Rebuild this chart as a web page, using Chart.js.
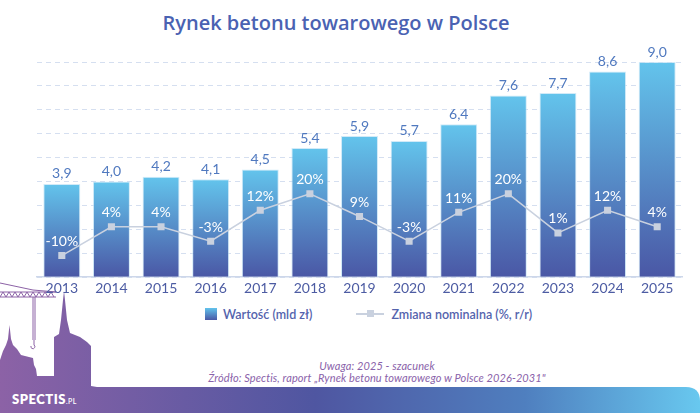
<!DOCTYPE html>
<html lang="pl">
<head>
    <meta charset="UTF-8">
    <title>Rynek betonu towarowego w Polsce</title>
    <script src="https://cdn.jsdelivr.net/npm/chart.js"></script>
    <style>
        body {
            margin: 0;
            width: 700px;
            height: 413px;
            overflow: hidden;
            background: #ffffff;
            position: relative;
            font-family: Lato, "Open Sans", sans-serif;
        }

        #deco {
            position: absolute;
            left: 0;
            top: 0;
            z-index: 0;
        }

        h1 {
            position: absolute;
            left: 0;
            top: 9px;
            width: 672px;
            margin: 0;
            text-align: center;
            font-family: "Open Sans", sans-serif;
            font-weight: 600;
            font-size: 20px;
            color: #4a62b2;
        }

        .wrap {
            position: absolute;
            left: 0;
            top: 0;
            width: 700px;
            height: 300px;
            z-index: 1;
        }

        .legend {
            position: absolute;
            top: 306px;
            left: 205px;
            height: 16px;
            display: flex;
            align-items: center;
            font-size: 12.5px;
            font-weight: 600;
            color: #5463ad;
            z-index: 1;
        }

        .legend .box {
            width: 12px;
            height: 12px;
            background: linear-gradient(#62c3ec, #4a58a6);
            margin-right: 6px;
        }

        .legend .ln {
            position: relative;
            width: 28px;
            height: 2px;
            background: #c9d1df;
            margin: 0 7px 0 44px;
        }

        .legend .ln::after {
            content: "";
            position: absolute;
            left: 11px;
            top: -3px;
            width: 7px;
            height: 7px;
            background: #c9d1df;
        }

        .notes {
            position: absolute;
            top: 360px;
            left: 177px;
            width: 400px;
            text-align: center;
            font-style: italic;
            font-size: 11px;
            line-height: 12px;
            letter-spacing: 0.1px;
            color: #8a62aa;
            z-index: 1;
        }
    </style>
</head>
<body>

    <svg id="deco" width="700" height="413">
        <defs>
            <linearGradient id="band" x1="0" y1="0" x2="700" y2="0" gradientUnits="userSpaceOnUse">
                <stop offset="0" stop-color="#8c62a6"/>
                <stop offset="0.45" stop-color="#4f56a1"/>
                <stop offset="0.75" stop-color="#4f7fbf"/>
                <stop offset="1" stop-color="#68c8ef"/>
            </linearGradient>
        </defs>
        <path d="M0,387 H686 Q700,387 700,401 V413 H0 Z" fill="url(#band)"/>
        <path fill="url(#band)" d="M0,413 V360 L3,351 L6,345 L8,339 L9.5,325 L11,339 L13,345 L17,349 L21,355
            L33,358 L34,365 L36,369 L37,376 L54,376 L54,337 L59,334 L61,320 L63,300 L64,291 L65,300 L67,320
            L70,333 L80,337 L87,342 L91,346 L91,386 L97,387 Z"/>
        <g stroke="#8c62a6" stroke-width="1" fill="none">
            <line x1="0" y1="292" x2="56" y2="292"/>
            <line x1="0" y1="297" x2="56" y2="297"/>
            <polyline points="0,297 3,292 6,297 9,292 12,297 15,292 18,297 21,292 24,297 27,292 30,297 33,292 36,297 39,292 42,297 45,292 48,297 51,292 54,297"/>
            <line x1="0" y1="283" x2="33" y2="290"/>
            <line x1="33" y1="290" x2="56" y2="292"/>
            <line x1="33" y1="297" x2="33" y2="340"/>
            <line x1="35" y1="297" x2="35" y2="340"/>
            <path d="M34,340 v5 a2,2 0 1 1 -3,1"/>
        </g>
        <text x="12" y="404" fill="#ffffff" font-family="Lato, sans-serif" font-weight="800" font-size="13" letter-spacing="0.5">SPECTIS<tspan font-size="7" font-weight="600">.PL</tspan></text>
    </svg>

    <h1>Rynek betonu towarowego w Polsce</h1>

    <div class="wrap">
        <canvas id="wykres"></canvas>
    </div>

    <div class="legend">
        <span class="box"></span>Wartość (mld zł)
        <span class="ln"></span>Zmiana nominalna (%, r/r)
    </div>

    <div class="notes">
        Uwaga: 2025 - szacunek<br>
        Źródło: Spectis, raport „Rynek betonu towarowego w Polsce 2026-2031"
    </div>

    <script>
        const lata = ['2013', '2014', '2015', '2016', '2017', '2018', '2019',
                      '2020', '2021', '2022', '2023', '2024', '2025'];
        const wartosc = [3.9, 4.0, 4.2, 4.1, 4.5, 5.4, 5.9, 5.7, 6.4, 7.6, 7.7, 8.6, 9.0];
        const zmiana = [-10, 4, 4, -3, 12, 20, 9, -3, 11, 20, 1, 12, 4];

        // gradient per bar: light blue at the top, dark blue at the base
        function kolorSlupka(ctx) {
            const chart = ctx.chart;
            const area = chart.chartArea;
            if (!area || ctx.dataIndex === undefined) return '#5a8fcf';
            const top = chart.scales.y.getPixelForValue(wartosc[ctx.dataIndex]);
            const g = chart.ctx.createLinearGradient(0, top, 0, area.bottom);
            g.addColorStop(0, '#63c4ec');
            g.addColorStop(1, '#4a57a5');
            return g;
        }

        const etykiety = {
            id: 'etykiety',
            afterDatasetsDraw(chart) {
                const ctx = chart.ctx;
                ctx.save();
                ctx.textAlign = 'center';
                ctx.textBaseline = 'middle';
                ctx.font = '14px Lato, sans-serif';

                ctx.fillStyle = '#5079bf';
                chart.getDatasetMeta(1).data.forEach((el, i) => {
                    ctx.fillText(wartosc[i].toFixed(1).replace('.', ','), el.x, el.y - 10);
                });

                ctx.fillStyle = '#ffffff';
                chart.getDatasetMeta(0).data.forEach((el, i) => {
                    ctx.fillText(zmiana[i] + '%', el.x, el.y - 14);
                });
                ctx.restore();
            }
        };

        new Chart(document.getElementById('wykres'), {
            data: {
                labels: lata,
                datasets: [
                    {
                        type: 'line',
                        label: 'Zmiana nominalna (%, r/r)',
                        data: zmiana,
                        yAxisID: 'y1',
                        order: 0,
                        borderColor: '#c9d1df',
                        borderWidth: 1.5,
                        pointStyle: 'rect',
                        pointRadius: 5,
                        pointBackgroundColor: '#c9d1df',
                        pointBorderWidth: 0,
                        tension: 0
                    },
                    {
                        type: 'bar',
                        label: 'Wartość (mld zł)',
                        data: wartosc,
                        yAxisID: 'y',
                        order: 1,
                        backgroundColor: kolorSlupka,
                        borderColor: 'rgba(190,225,245,0.7)',
                        borderWidth: 1,
                        barPercentage: 0.745,
                        categoryPercentage: 1.0
                    }
                ]
            },
            options: {
                responsive: true,
                maintainAspectRatio: false,
                animation: false,
                layout: { padding: { left: 37, right: 18, top: 62, bottom: 0 } },
                plugins: {
                    legend: { display: false },
                    tooltip: { enabled: false }
                },
                scales: {
                    x: {
                        grid: { display: false, drawTicks: false },
                        border: { color: '#cdd7ea', width: 1.5 },
                        ticks: {
                            color: '#4d5ca3',
                            font: { family: 'Lato, sans-serif', size: 14 },
                            padding: 3
                        }
                    },
                    y: {
                        min: 0,
                        max: 9,
                        ticks: { display: false, stepSize: 1 },
                        grid: { color: '#d5dff0', lineWidth: 1, drawTicks: false },
                        border: { display: false, dash: [5, 4] }
                    },
                    y1: {
                        display: false,
                        min: -20.5,
                        max: 84
                    }
                }
            },
            plugins: [etykiety]
        });
    </script>

</body>
</html>
